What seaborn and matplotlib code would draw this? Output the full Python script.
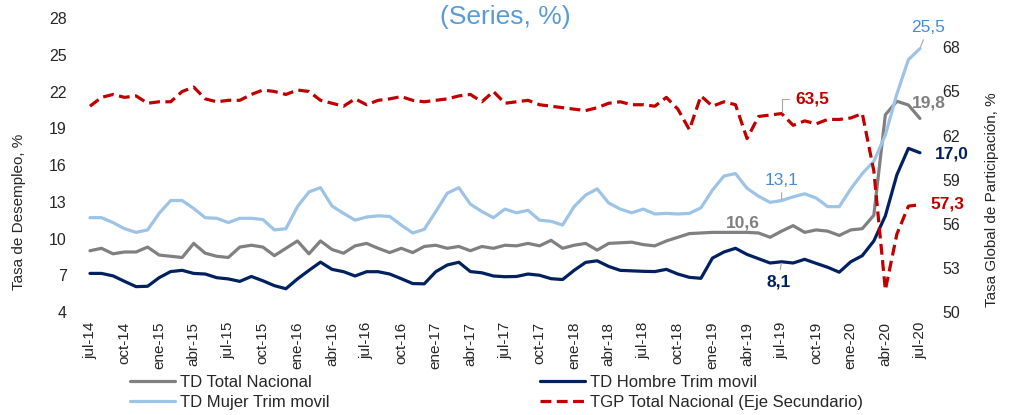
import pandas as pd
import matplotlib
matplotlib.use('Agg')
import matplotlib.pyplot as plt
import seaborn as sns

# meses jul-14 .. jul-20 (73 datos mensuales)
tick_labels = ['jul-14', 'oct-14', 'ene-15', 'abr-15', 'jul-15', 'oct-15', 'ene-16', 'abr-16',
               'jul-16', 'oct-16', 'ene-17', 'abr-17', 'jul-17', 'oct-17', 'ene-18', 'abr-18',
               'jul-18', 'oct-18', 'ene-19', 'abr-19', 'jul-19', 'oct-19', 'ene-20', 'abr-20', 'jul-20']

td_total = [9.0, 9.2, 8.75, 8.9, 8.9, 9.3, 8.65, 8.55, 8.45, 9.6,
            8.8, 8.55, 8.45, 9.3, 9.45, 9.3, 8.6, 9.2, 9.8, 8.75,
            9.8, 9.1, 8.8, 9.4, 9.6, 9.2, 8.85, 9.2, 8.85, 9.35,
            9.45, 9.2, 9.35, 9.0, 9.35, 9.2, 9.45, 9.4, 9.6, 9.4,
            9.85, 9.2, 9.45, 9.6, 9.05, 9.6, 9.65, 9.7, 9.5, 9.4,
            9.8, 10.1, 10.4, 10.45, 10.5, 10.5, 10.5, 10.5, 10.45, 10.1,
            10.6, 11.05, 10.5, 10.7, 10.6, 10.25, 10.7, 10.8, 11.9, 20.1,
            21.2, 20.9, 19.8]

td_hombre = [7.15, 7.15, 6.95, 6.5, 6.07, 6.1, 6.8, 7.3, 7.4, 7.15,
             7.1, 6.8, 6.7, 6.5, 6.9, 6.55, 6.15, 5.9, 6.7, 7.4,
             8.07, 7.48, 7.29, 6.94, 7.29, 7.29, 7.1, 6.72, 6.32, 6.3,
             7.29, 7.84, 8.06, 7.3, 7.2, 6.94, 6.88, 6.9, 7.1, 7.0,
             6.72, 6.65, 7.4, 8.05, 8.18, 7.72, 7.4, 7.36, 7.32, 7.3,
             7.48, 7.1, 6.83, 6.75, 8.4, 8.9, 9.2, 8.7, 8.35, 8.0,
             8.1, 8.0, 8.3, 7.97, 7.65, 7.25, 8.1, 8.6, 9.8, 11.85,
             15.2, 17.36, 17.0]

td_mujer = [11.7, 11.7, 11.3, 10.8, 10.5, 10.7, 12.05, 13.1, 13.1, 12.45,
            11.7, 11.65, 11.3, 11.65, 11.65, 11.55, 10.7, 10.8, 12.6, 13.8,
            14.15, 12.65, 12.05, 11.5, 11.75, 11.85, 11.8, 11.1, 10.45, 10.75,
            12.2, 13.7, 14.15, 12.8, 12.2, 11.7, 12.4, 12.1, 12.3, 11.5,
            11.4, 11.1, 12.6, 13.55, 14.05, 12.9, 12.4, 12.1, 12.4, 12.0,
            12.05, 12.0, 12.05, 12.5, 13.95, 15.1, 15.3, 14.1, 13.45, 12.95,
            13.1, 13.4, 13.65, 13.3, 12.6, 12.6, 14.05, 15.3, 16.3, 18.45,
            21.8, 24.6, 25.5]

tgp = [64.0, 64.6, 64.8, 64.6, 64.7, 64.2, 64.3, 64.3, 65.0, 65.3,
       64.5, 64.3, 64.4, 64.4, 64.8, 65.1, 65.0, 64.8, 65.1, 65.0,
       64.4, 64.2, 64.0, 64.5, 64.1, 64.4, 64.5, 64.65, 64.4, 64.3,
       64.4, 64.5, 64.7, 64.8, 64.3, 65.0, 64.2, 64.3, 64.4, 64.1,
       64.0, 63.9, 63.8, 63.7, 63.9, 64.2, 64.3, 64.1, 64.1, 64.0,
       64.6, 63.8, 62.4, 64.7, 64.0, 64.3, 64.1, 61.8, 63.3, 63.4,
       63.5, 62.7, 63.0, 62.8, 63.1, 63.1, 63.2, 63.5, 59.6, 51.5,
       55.3, 57.2, 57.3]

df = pd.DataFrame({'mes': range(len(td_total)), 'td_total': td_total, 'td_hombre': td_hombre,
                   'td_mujer': td_mujer, 'tgp': tgp})

c_gris = '#808080'
c_hombre = '#002060'
c_mujer = '#9DC3E6'
c_tgp = '#C00000'
c_etiq_azul = '#4A8BD0'

sns.set_style('white')
plt.rcParams['font.family'] = ['Liberation Sans', 'DejaVu Sans']

fig = plt.figure(figsize=(10.09, 4.15), dpi=100)
ax = fig.add_axes([85/1009, 103/415, 843/1009, 294/415])
ax2 = ax.twinx()

sns.lineplot(data=df, x='mes', y='td_total', ax=ax, color=c_gris, lw=2.3, label='TD Total Nacional', legend=False)
sns.lineplot(data=df, x='mes', y='td_mujer', ax=ax, color=c_mujer, lw=2.3, label='TD Mujer Trim movil', legend=False)
sns.lineplot(data=df, x='mes', y='td_hombre', ax=ax, color=c_hombre, lw=2.3, label='TD Hombre Trim movil', legend=False)
sns.lineplot(data=df, x='mes', y='tgp', ax=ax2, color=c_tgp, lw=2.3,
             label='TGP Total Nacional (Eje Secundario)', legend=False)
ax2.lines[0].set_dashes((3.4, 1.7))

# ejes
ax.set_xlim(-0.43, 72.7)
ax.set_ylim(4, 28)
ax.set_yticks(range(4, 29, 3))
ax2.set_ylim(50, 70)
ax2.set_yticks(range(50, 69, 3))
ax.set_xticks(range(0, 73, 3))
ax.set_xticklabels(tick_labels, rotation=90)
ax.tick_params(axis='x', length=0, pad=7, labelsize=11)
ax.tick_params(axis='y', length=0, pad=13, labelsize=11.5)
ax2.tick_params(axis='y', length=0, pad=10, labelsize=11.5)
for a in (ax, ax2):
    for s in a.spines.values():
        s.set_visible(False)
    a.grid(False)
ax.set_xlabel('')
ax.set_ylabel('Tasa de Desempleo, %', fontsize=11)
ax.yaxis.set_label_coords(-0.070, 0.34)
ax2.set_ylabel('Tasa Global de Participación, %', fontsize=11)
ax2.yaxis.set_label_coords(1.0676, 0.381)

fig.text(0.5005, 1 - 24/415, '(Series, %)', ha='center', va='baseline', fontsize=19, color='#5B9BD5')


def fmt(v):
    return f'{v:.1f}'.replace('.', ',')


lead = dict(arrowstyle='-', color='#A6A6A6', lw=0.8, shrinkA=1, shrinkB=1)
last = len(td_total) - 1
ref = 60  # jul-19

ax.annotate(fmt(td_mujer[last]), xy=(last, td_mujer[last]), xytext=(5.8, 15.1), textcoords='offset points',
            ha='center', va='center', fontsize=12.5, color=c_etiq_azul, arrowprops=lead)
ax.annotate(fmt(td_total[last]), xy=(last, td_total[last]), xytext=(-5.8, 10.8), textcoords='offset points',
            ha='left', va='center', fontsize=12.5, color='#7F7F7F', fontweight='bold')
ax.annotate(fmt(td_hombre[last]), xy=(last, td_hombre[last]), xytext=(10.8, -0.7), textcoords='offset points',
            ha='left', va='center', fontsize=12.5, color=c_hombre, fontweight='bold')
ax2.annotate(fmt(tgp[last]), xy=(last, tgp[last]), xytext=(7.2, 0.7), textcoords='offset points',
             ha='left', va='center', fontsize=12.5, color=c_tgp, fontweight='bold')

ax2.annotate(fmt(tgp[ref]), xy=(ref, tgp[ref]), xytext=(10, 10.8), textcoords='offset points',
             ha='left', va='center', fontsize=12.5, color=c_tgp, fontweight='bold',
             arrowprops=dict(arrowstyle='-', color='#A6A6A6', lw=0.8, shrinkA=2, shrinkB=1, relpos=(0, 0.5),
                             connectionstyle='angle,angleA=0,angleB=90,rad=0'))
ax.annotate(fmt(td_mujer[ref]), xy=(ref, td_mujer[ref]), xytext=(0, 14.4), textcoords='offset points',
            ha='center', va='center', fontsize=12.5, color=c_etiq_azul, arrowprops=lead)
ax.annotate(fmt(td_total[ref]), xy=(ref, td_total[ref]), xytext=(-28, 5.8), textcoords='offset points',
            ha='center', va='center', fontsize=12.5, color='#7F7F7F', fontweight='bold')
ax.annotate(fmt(td_hombre[ref]), xy=(ref, td_hombre[ref]), xytext=(-2.5, -14.4), textcoords='offset points',
            ha='center', va='center', fontsize=12.5, color=c_hombre, fontweight='bold', arrowprops=lead)

# leyenda
h1, l1 = ax.get_legend_handles_labels()
h2, l2 = ax2.get_legend_handles_labels()
handles = h1 + h2
labels = l1 + l2
fig.legend(handles, labels, loc='upper left',
           bbox_to_anchor=(130/1009, 1 - 375/415), ncol=2, frameon=False, fontsize=12,
           handlelength=2.7, handletextpad=0.3, columnspacing=12.6, labelspacing=0.3,
           borderpad=0, borderaxespad=0)

fig.savefig('out.png', dpi=100)
